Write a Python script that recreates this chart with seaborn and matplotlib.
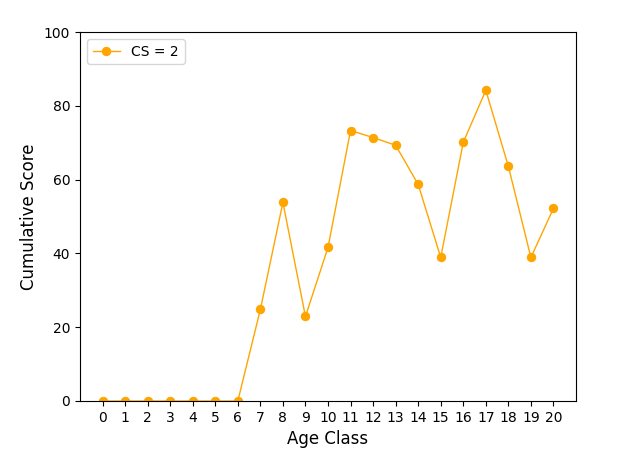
import matplotlib
matplotlib.use('Agg')
import matplotlib.pyplot as plt
import seaborn as sns
import pandas as pd

# values
age_class = list(range(21))
cum_score = [0, 0, 0, 0, 0, 0, 0, 24.8, 53.8, 22.9, 41.6, 73.3, 71.4, 69.3,
             58.7, 38.9, 70.1, 84.2, 63.6, 38.9, 52.2]

df = pd.DataFrame({'Age Class': age_class, 'Cumulative Score': cum_score})

fig, ax = plt.subplots(figsize=(6.4, 4.54), dpi=100)
fig.subplots_adjust(left=0.125, right=0.9, top=1 - 32 / 454, bottom=1 - 401 / 454)

sns.lineplot(data=df, x='Age Class', y='Cumulative Score', marker='o',
             color='orange', linewidth=1, markersize=6,
             markeredgecolor='orange', label='CS = 2', ax=ax)

ax.set_xticks(age_class)
ax.set_ylim(0, 100)
ax.set_xlabel('Age Class', fontsize=12)
ax.set_ylabel('Cumulative Score', fontsize=12)
ax.legend(loc='upper left')

fig.savefig('out.png', dpi=100)
